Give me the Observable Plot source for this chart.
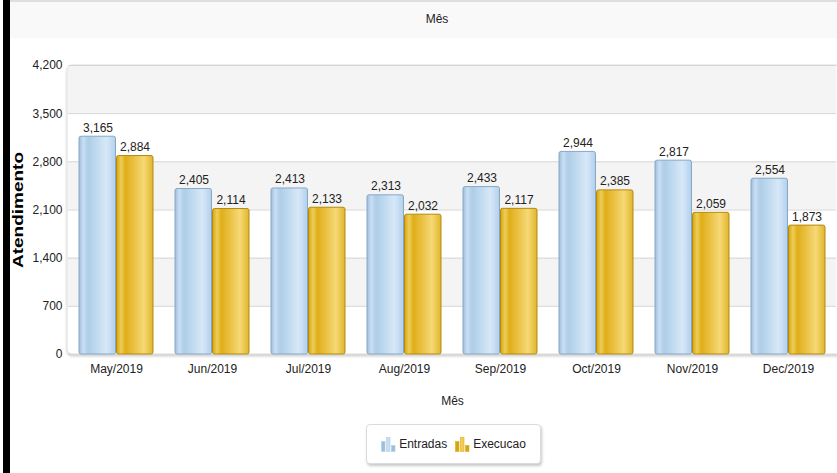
<!DOCTYPE html>
<html>
<head>
<meta charset="utf-8">
<script src="https://cdn.jsdelivr.net/npm/d3@7"></script>
<script src="https://cdn.jsdelivr.net/npm/@observablehq/plot@0.6"></script>
<style>
  html, body { margin: 0; padding: 0; background: #fff; }
  #wrap { position: relative; width: 837px; height: 473px; overflow: hidden; font-family: "Liberation Sans", Arial, sans-serif; color: #222; }
  #edge { position: absolute; left: 3px; top: 0; width: 7px; height: 473px; background: #000; }
  #band { position: absolute; left: 10px; top: 0; width: 827px; height: 38px; background: #f9f9f9; border-top: 2px solid #dedede; box-sizing: border-box; }
  #title { position: absolute; left: 0; width: 837px; top: 12px; text-align: center; font-size: 12px; padding-left: 37px; box-sizing: border-box; }
  #chart { position: absolute; left: 0; top: 38px; }
  #legend { position: absolute; left: 366px; top: 424px; height: 40px; width: 175px; border: 1px solid #dcdcdc; border-radius: 4px; box-shadow: 1px 2px 3px rgba(0,0,0,0.22); background: #fff; display: flex; align-items: center; justify-content: center; gap: 8px; font-size: 12px; box-sizing: border-box; }
  .item { display: flex; align-items: center; gap: 3px; }
</style>
</head>
<body>
<div id="wrap">
  <div id="band"></div>
  <div id="title">Mês</div>
  <div id="edge"></div>
  <div id="chart"></div>
  <div id="legend"></div>
</div>
<script>
const months = ["May/2019","Jun/2019","Jul/2019","Aug/2019","Sep/2019","Oct/2019","Nov/2019","Dec/2019"];
const series = ["Entradas","Execucao"];
const entradas = [3165,2405,2413,2313,2433,2944,2817,2554];
const execucao = [2884,2114,2133,2032,2117,2385,2059,1873];
const yTicks = [0,700,1400,2100,2800,3500,4200];

const data = months.flatMap((m, i) => [
  {month: m, series: series[0], value: entradas[i]},
  {month: m, series: series[1], value: execucao[i]}
]);
const bands = yTicks.slice(0, -1).map((t, i) => ({y1: t, y2: yTicks[i + 1], shade: i % 2 === 1}));
const fmt = d3.format(",");

const W = 837, H = 373, ML = 67, MT = 27, MB = 57;

const plot = Plot.plot({
  width: W, height: H,
  marginTop: MT, marginBottom: MB, marginLeft: ML, marginRight: 0,
  style: {fontFamily: "'Liberation Sans', Arial, sans-serif", fontSize: "12px", color: "#222", background: "transparent", overflow: "visible"},
  fx: {domain: months, padding: 0},
  x: {domain: series, paddingInner: 0, paddingOuter: 0.266, axis: null},
  y: {domain: [0, 4200], label: null},
  marks: [
    Plot.rect(bands.filter(d => d.shade), {y1: "y1", y2: "y2", fill: "#f4f4f4"}),
    Plot.ruleY(yTicks, {stroke: "#d6d6d6"}),
    Plot.barY(data.filter(d => d.series === series[0]), {fx: "month", x: "series", y: "value", fill: "url(#gBlue)", stroke: "#86a8c6", strokeWidth: 1, rx: 2, insetRight: 0.5}),
    Plot.barY(data.filter(d => d.series === series[1]), {fx: "month", x: "series", y: "value", fill: "url(#gGold)", stroke: "#b48a0c", strokeWidth: 1, rx: 2, insetLeft: 0.5}),
    Plot.text(data, {fx: "month", x: "series", y: "value", text: d => fmt(d.value), lineAnchor: "bottom", dy: -5, fill: "#222", fontSize: 12}),
    Plot.axisY({ticks: yTicks, tickFormat: fmt, tickSize: 0, tickPadding: 6, label: "Atendimento", labelArrow: "none", labelAnchor: "center", labelOffset: 55, fontSize: 12}),
    Plot.axisFx({anchor: "bottom", tickSize: 0, tickPadding: 10, label: "Mês", labelArrow: "none", labelAnchor: "center", labelOffset: 50, fontSize: 12})
  ]
});

// gradients
const ns = "http://www.w3.org/2000/svg";
const defs = document.createElementNS(ns, "defs");
defs.innerHTML = `
  <linearGradient id="gBlue" x1="0" x2="1" y1="0" y2="0">
    <stop offset="0" stop-color="#9dbfdf"/>
    <stop offset="0.12" stop-color="#c9def1"/>
    <stop offset="0.25" stop-color="#aecde8"/>
    <stop offset="0.75" stop-color="#d6e8f8"/>
    <stop offset="1" stop-color="#b3d0ea"/>
  </linearGradient>
  <linearGradient id="gGold" x1="0" x2="1" y1="0" y2="0">
    <stop offset="0" stop-color="#d6a40c"/>
    <stop offset="0.12" stop-color="#f0cd5a"/>
    <stop offset="0.25" stop-color="#dfae18"/>
    <stop offset="0.75" stop-color="#f6d977"/>
    <stop offset="1" stop-color="#e2b52a"/>
  </linearGradient>
  <filter id="shadow" x="-5%" y="-5%" width="110%" height="115%">
    <feDropShadow dx="0" dy="2" stdDeviation="1.2" flood-color="#000" flood-opacity="0.18"/>
  </filter>`;
plot.insertBefore(defs, plot.firstChild);

// plot area frame (rounded) behind everything, drawn from the y scale
const ys = plot.scale("y");
const frame = document.createElementNS(ns, "rect");
frame.setAttribute("x", ML);
frame.setAttribute("y", ys.apply(4200));
frame.setAttribute("width", W - ML + 6);
frame.setAttribute("height", ys.apply(0) - ys.apply(4200));
frame.setAttribute("rx", 5);
frame.setAttribute("fill", "#fff");
frame.setAttribute("stroke", "#dcdcdc");
frame.setAttribute("filter", "url(#shadow)");
plot.insertBefore(frame, defs.nextSibling);

// y-axis label styling like the reference
plot.querySelectorAll("text").forEach(t => {
  if (t.textContent.trim().startsWith("Atendimento")) {
    t.textContent = "Atendimento";
    t.setAttribute("font-weight", "bold");
    t.setAttribute("font-size", "14");
    t.setAttribute("textLength", "116");
    t.setAttribute("lengthAdjust", "spacingAndGlyphs");
    t.setAttribute("fill", "#000");
  }
});

document.getElementById("chart").appendChild(plot);

// legend
const legendColors = {Entradas: ["#9dbfdf", "#c9def1", "#aecde8"], Execucao: ["#d6a40c", "#f0cd5a", "#dfae18"]};
const leg = document.getElementById("legend");
series.forEach(s => {
  const item = document.createElement("div");
  item.className = "item";
  const c = legendColors[s];
  item.innerHTML = `<svg width="15" height="16" viewBox="0 0 15 16">
    <rect x="0.5" y="5.5" width="3.5" height="10" fill="${c[0]}" stroke="${c[2]}" stroke-width="0.6"/>
    <rect x="5.5" y="1.5" width="3.5" height="14" fill="${c[1]}" stroke="${c[2]}" stroke-width="0.6"/>
    <rect x="10.5" y="9.5" width="3.5" height="6" fill="${c[0]}" stroke="${c[2]}" stroke-width="0.6"/>
  </svg><span>${s}</span>`;
  leg.appendChild(item);
});
</script>
</body>
</html>
